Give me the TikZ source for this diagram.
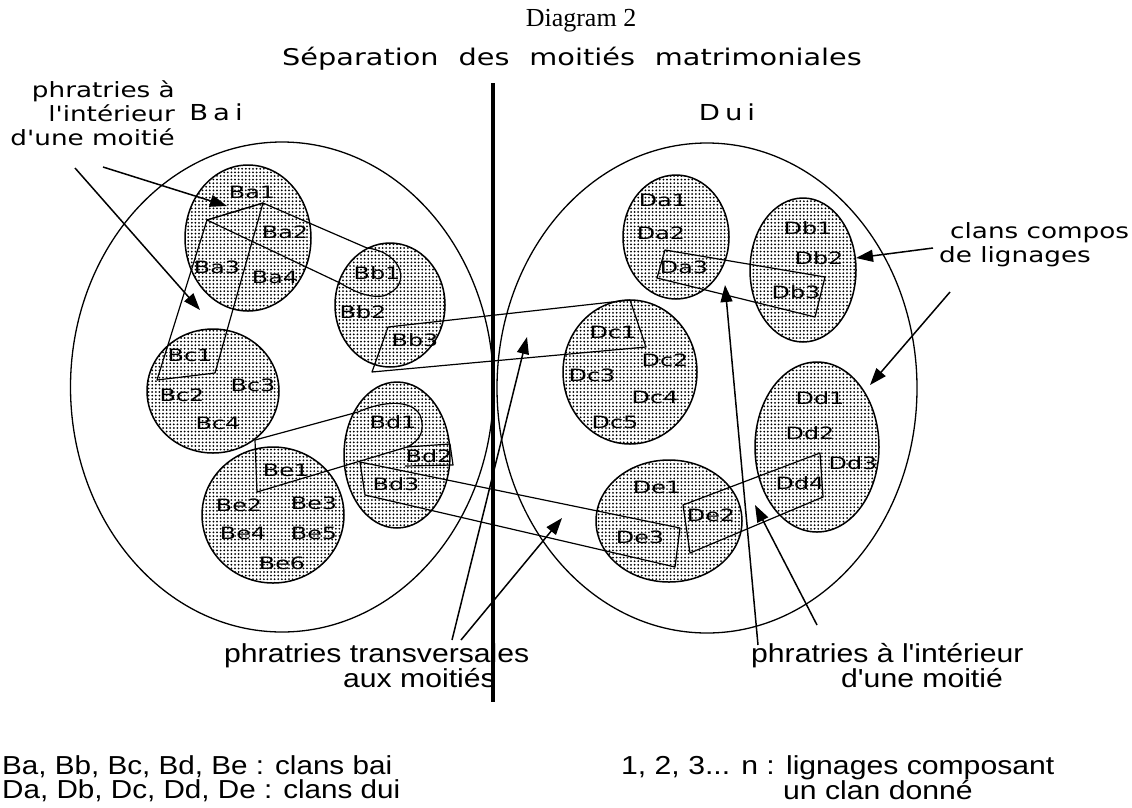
\documentclass[tikz,border=0pt]{standalone}
\usepackage{fontspec}
\setmainfont{Liberation Serif}
\newfontfamily\genf{DejaVu Sans}
\newfontfamily\narf{Liberation Sans}
\usetikzlibrary{shapes.geometric,arrows.meta,patterns}
\pgfdeclarepatternformonly{stipple}{\pgfqpoint{-1pt}{-1pt}}{\pgfqpoint{3pt}{3pt}}{\pgfqpoint{3.6pt}{3.6pt}}{\pgfpathcircle{\pgfqpoint{1pt}{1pt}}{1pt}\pgfusepath{fill}}
\newcommand{\hsc}[2][1.25]{\scalebox{#1}[1]{#2}}
\newcommand{\cl}[1]{\scalebox{1.4}[1]{#1}}
\tikzset{
 moiety/.style={draw, line width=1.3pt, ellipse, inner sep=0pt},
 clan/.style={draw, line width=1.5pt, ellipse, inner sep=0pt, pattern=stipple},
 lab/.style={font=\genf\fontsize{17}{17}\selectfont, inner sep=0pt},
 phr/.style={line width=1.2pt, line join=round},
 arr/.style={line width=1.5pt, -{Triangle[length=17pt,width=12pt]}},
 gtxt/.style={font=\genf\fontsize{21}{24}\selectfont, inner sep=0pt},
 ntxt/.style={font=\narf\fontsize{26}{24.5}\selectfont, inner sep=0pt},
}
\begin{document}
\begin{tikzpicture}[x=1pt,y=-1pt]
\useasboundingbox (0,0) rectangle (1132,807);
\fill[white] (0,0) rectangle (1132,807);

% moieties
\node[moiety, minimum width=423pt, minimum height=490pt] (Bai) at (282,387) {};
\node[moiety, minimum width=420pt, minimum height=490pt] (Dui) at (707,388) {};

% clans
\node[clan, minimum width=126pt, minimum height=146pt] (Ba) at (248,238) {};
\node[clan, minimum width=110pt, minimum height=124pt] (Bb) at (390,305) {};
\node[clan, minimum width=132pt, minimum height=124pt] (Bc) at (213,391) {};
\node[clan, minimum width=106pt, minimum height=146pt] (Bd) at (397,455) {};
\node[clan, minimum width=142pt, minimum height=136pt] (Be) at (273,515) {};
\node[clan, minimum width=106pt, minimum height=124pt] (Da) at (676,237) {};
\node[clan, minimum width=106pt, minimum height=144pt] (Db) at (803,270) {};
\node[clan, minimum width=134pt, minimum height=144pt] (Dc) at (630,372) {};
\node[clan, minimum width=124pt, minimum height=170pt] (Dd) at (817,447) {};
\node[clan, minimum width=146pt, minimum height=122pt] (De) at (669,521) {};

% phratries
\draw[phr] (207,220) -- (263,203) -- (367,248) .. controls (402,252) and (414,286) .. (383,296) .. controls (366,298) and (352,290) .. (340,283) -- cycle;
\draw[phr] (207,220) -- (263,203) -- (215,373) -- (157,380) -- cycle;
\draw[phr] (388,327) -- (630,300) -- (646,347) -- (372,372) -- cycle;
\draw[phr] (255,440) -- (358,412) .. controls (385,400) and (412,400) .. (420,415) .. controls (425,428) and (422,440) .. (407,447) -- (257,492) -- cycle;
\draw[phr] (407,447) -- (450,444) -- (453,465) -- (405,466);
\draw[phr] (360,462) -- (680,528) -- (675,567) -- (365,495) -- cycle;
\draw[phr] (683,505) -- (820,453) -- (823,497) -- (690,553) -- cycle;
\draw[phr] (665,250) -- (825,277) -- (815,317) -- (657,278) -- cycle;

% clan labels
\node[lab] (Ba1) at (252,192) {\cl{Ba1}};
\node[lab] (Ba2) at (285,232) {\cl{Ba2}};
\node[lab] (Ba3) at (217,267) {\cl{Ba3}};
\node[lab] (Ba4) at (275,277) {\cl{Ba4}};
\node[lab] (Bb1) at (377,273) {\cl{Bb1}};
\node[lab] (Bb2) at (363,312) {\cl{Bb2}};
\node[lab] (Bb3) at (415,340) {\cl{Bb3}};
\node[lab] (Bc1) at (190,355) {\cl{Bc1}};
\node[lab] (Bc2) at (182,395) {\cl{Bc2}};
\node[lab] (Bc3) at (253,385) {\cl{Bc3}};
\node[lab] (Bc4) at (218,423) {\cl{Bc4}};
\node[lab] (Bd1) at (393,422) {\cl{Bd1}};
\node[lab] (Bd2) at (429,456) {\cl{Bd2}};
\node[lab] (Bd3) at (396,484) {\cl{Bd3}};
\node[lab] (Be1) at (286,470) {\cl{Be1}};
\node[lab] (Be2) at (239,505) {\cl{Be2}};
\node[lab] (Be3) at (314,503) {\cl{Be3}};
\node[lab] (Be4) at (243,533) {\cl{Be4}};
\node[lab] (Be5) at (314,533) {\cl{Be5}};
\node[lab] (Be6) at (282,563) {\cl{Be6}};
\node[lab] (Da1) at (663,200) {\cl{Da1}};
\node[lab] (Da2) at (661,233) {\cl{Da2}};
\node[lab] (Da3) at (684,267) {\cl{Da3}};
\node[lab] (Db1) at (808,228) {\cl{Db1}};
\node[lab] (Db2) at (819,258) {\cl{Db2}};
\node[lab] (Db3) at (796,292) {\cl{Db3}};
\node[lab] (Dc1) at (613,332) {\cl{Dc1}};
\node[lab] (Dc2) at (665,360) {\cl{Dc2}};
\node[lab] (Dc3) at (592,375) {\cl{Dc3}};
\node[lab] (Dc4) at (655,397) {\cl{Dc4}};
\node[lab] (Dc5) at (615,422) {\cl{Dc5}};
\node[lab] (Dd1) at (820,398) {\cl{Dd1}};
\node[lab] (Dd2) at (810,433) {\cl{Dd2}};
\node[lab] (Dd3) at (853,463) {\cl{Dd3}};
\node[lab] (Dd4) at (800,483) {\cl{Dd4}};
\node[lab] (De1) at (657,487) {\cl{De1}};
\node[lab] (De2) at (711,515) {\cl{De2}};
\node[lab] (De3) at (640,537) {\cl{De3}};

% separation line
\coordinate (sepT) at (493,83);
\coordinate (sepB) at (493,702);
\draw[line width=4pt] (sepT) -- (sepB);

% texts
\node[font=\fontsize{26}{26}\selectfont, anchor=base, inner sep=0pt] (diag) at (581,26) {Diagram 2};
\node[font=\genf\fontsize{23}{23}\selectfont, anchor=base, inner sep=0pt] (title) at (572,65) {\hsc{Séparation\hspace{16pt}des\hspace{16pt}moitiés\hspace{16pt}matrimoniales}};
\node[font=\genf\fontsize{22}{22}\selectfont, inner sep=0pt, anchor=base] (bai) at (216,120) {\hsc{B\hspace{4pt}a\hspace{4pt}i}};
\node[font=\genf\fontsize{22}{22}\selectfont, inner sep=0pt, anchor=base] (dui) at (727,120) {\hsc{D\hspace{4pt}u\hspace{4pt}i}};
\node[gtxt, align=right, anchor=north east] (tl) at (175,80) {\hsc{phratries à}\\\hsc{l'intérieur}\\\hsc{d'une moitié}};
\node[gtxt, align=left, anchor=north west] (tr) at (939,222) {\hspace*{11pt}\hsc{clans compos}\\\hsc{de lignages}};
\node[ntxt, align=left, anchor=north west] (bl) at (224,643) {\hsc[1.16]{phratries transversales}\\\hspace*{119pt}\hsc[1.16]{aux moitiés}};
\node[ntxt, align=left, anchor=north west] (br) at (751,643) {\hsc[1.16]{phratries à l'intérieur}\\\hspace*{90pt}\hsc[1.16]{d'une moitié}};
\node[ntxt, align=left, anchor=north west] (lg1) at (2,755) {\hsc[1.14]{Ba, Bb, Bc, Bd, Be : clans bai}\\\hsc[1.14]{Da, Db, Dc, Dd, De : clans dui}};
\node[ntxt, align=left, anchor=north west] (lg2) at (621,755) {\hsc[1.16]{1, 2, 3... n : lignages composant}\\\hspace*{162pt}\hsc[1.16]{un clan donné}};

% arrows
\coordinate (a1s) at (103,167); \coordinate (a1e) at (227,206);
\coordinate (a2s) at (75,168);  \coordinate (a2e) at (200,310);
\coordinate (a3s) at (933,248); \coordinate (a3e) at (856,258);
\coordinate (a4s) at (950,292); \coordinate (a4e) at (870,385);
\coordinate (a5s) at (452,640); \coordinate (a5e) at (527,337);
\coordinate (a6s) at (461,640); \coordinate (a6e) at (562,518);
\coordinate (a7s) at (758,645); \coordinate (a7e) at (725,285);
\coordinate (a8s) at (817,625); \coordinate (a8e) at (755,505);
\draw[arr] (a1s) -- (a1e);
\draw[arr] (a2s) -- (a2e);
\draw[arr] (a3s) -- (a3e);
\draw[arr] (a4s) -- (a4e);
\draw[arr] (a5s) -- (a5e);
\draw[arr] (a6s) -- (a6e);
\draw[arr] (a7s) -- (a7e);
\draw[arr] (a8s) -- (a8e);
\end{tikzpicture}
\end{document}
